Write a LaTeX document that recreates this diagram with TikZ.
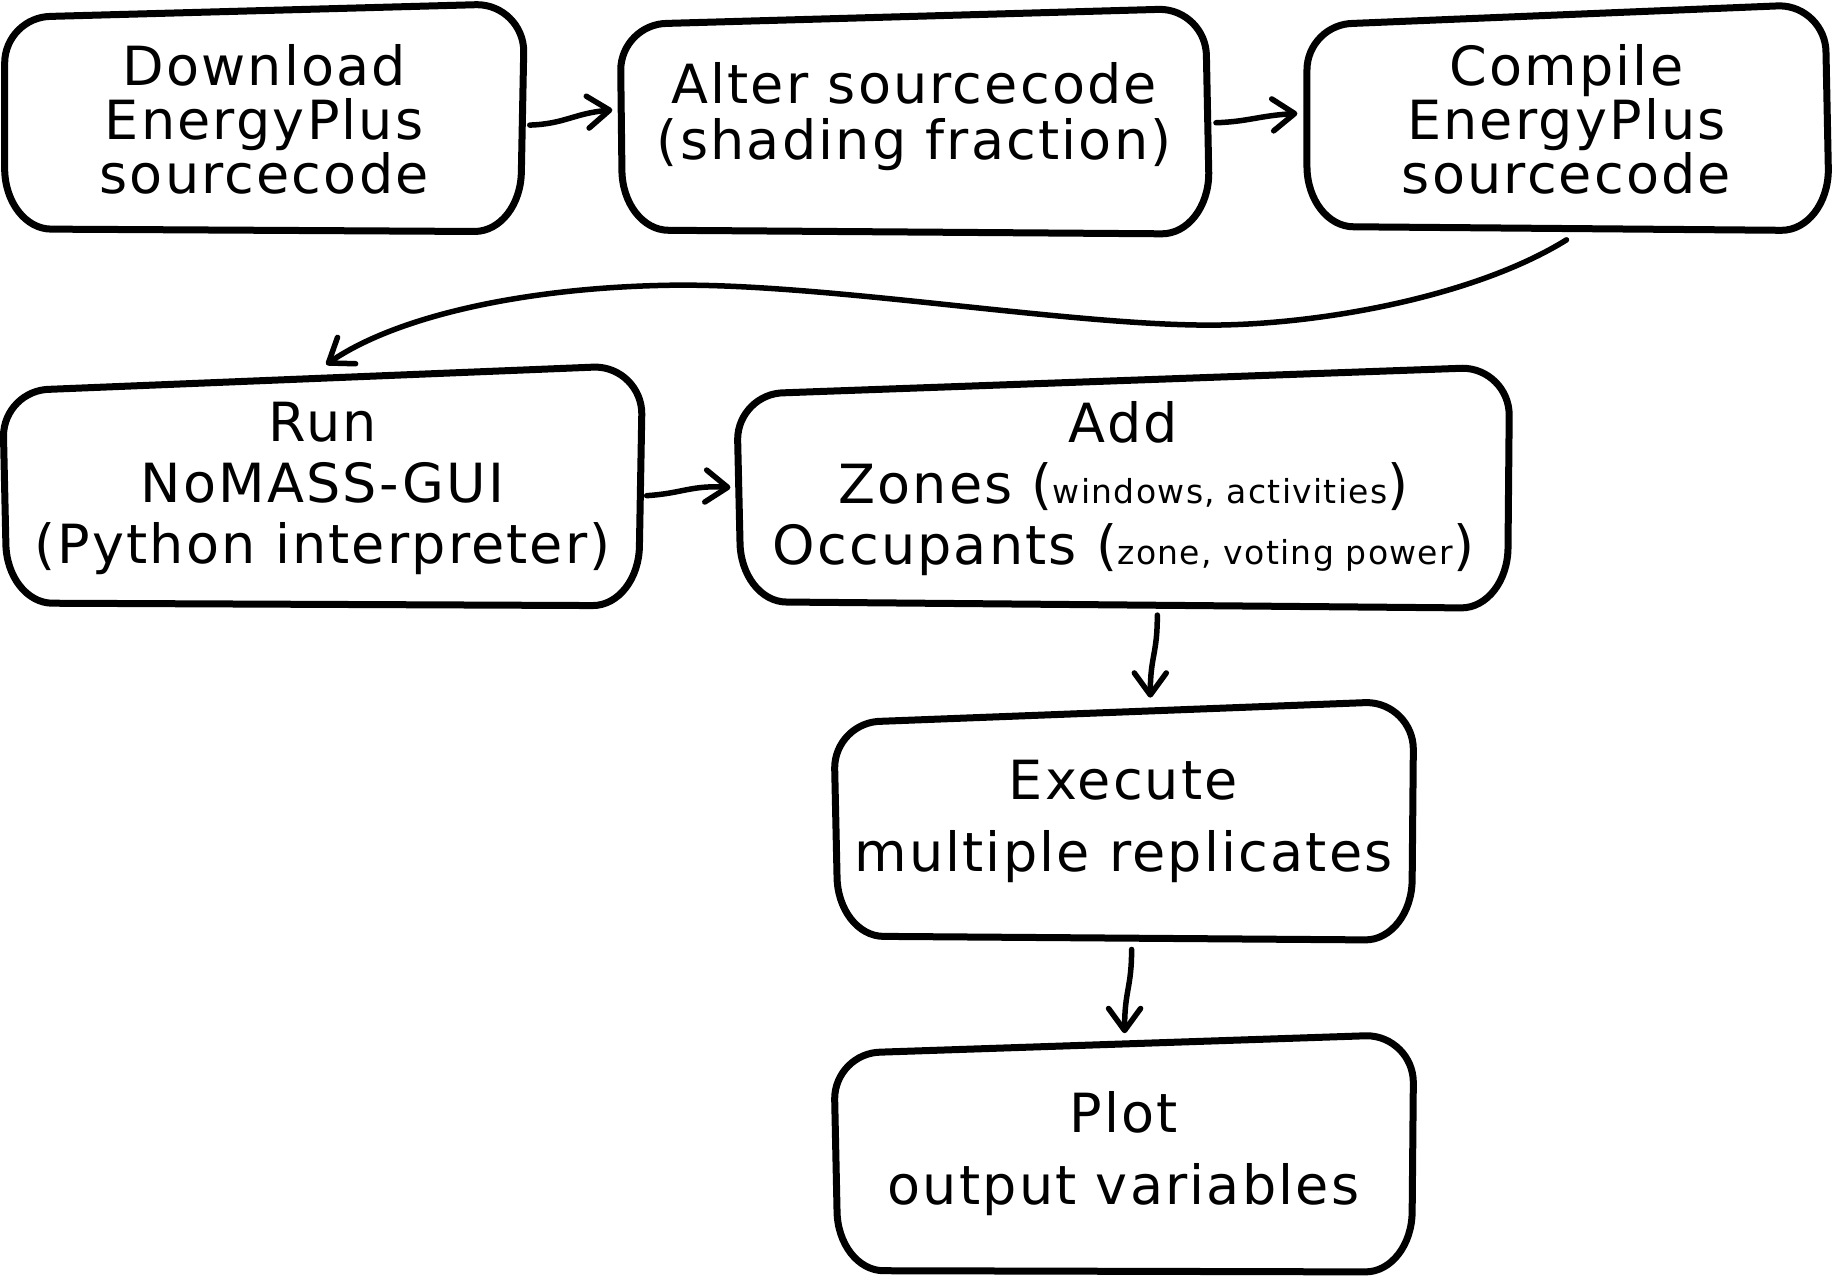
\documentclass[tikz,border=0pt]{standalone}
\usepackage{fontspec}
\setmainfont[LetterSpace=4]{DejaVu Sans}
\usetikzlibrary{arrows.meta}
\tikzset{
  boxline/.style={line width=7pt, line join=round, line cap=round},
  boxnode/.style={inner sep=0pt, align=center},
  arr/.style={line width=5.5pt, line cap=round, -{Straight Barb[length=22pt,width=32pt,line cap=round,line join=round]}},
}
\newcommand\skbox[8]{%
\draw[boxline] ({#1+40},#2) -- ({#3-40},#4) .. controls ({#3-18},#4) and (#3,{#4+18}) .. (#3,{#4+40})
 -- (#5,{#6-52}) .. controls (#5,{#6-23}) and ({#5-18},#6) .. ({#5-40},#6)
 -- ({#7+40},#8) .. controls ({#7+18},#8) and (#7,{#8-23}) .. (#7,{#8-52})
 -- (#1,{#2+40}) .. controls (#1,{#2+18}) and ({#1+18},#2) .. cycle;}
\newcommand\smalltxt[1]{{\fontsize{33}{33}\selectfont #1}}
\begin{document}
\begin{tikzpicture}[x=1.169pt,y=-1.169pt]
\useasboundingbox (0,0) rectangle (1568,1092);
% nodes
\node[boxnode, minimum width=444*1.169pt, minimum height=190*1.169pt, font=\fontsize{54}{54}\selectfont] (b1) at (226,102) {Download\\EnergyPlus\\sourcecode};
\node[boxnode, minimum width=502*1.169pt, minimum height=190*1.169pt, font=\fontsize{54}{56}\selectfont] (b2) at (782,100) {Alter sourcecode\\(shading fraction)};
\node[boxnode, minimum width=446*1.169pt, minimum height=190*1.169pt, font=\fontsize{54}{54}\selectfont] (b3) at (1340,102) {Compile\\EnergyPlus\\sourcecode};
\node[boxnode, minimum width=546*1.169pt, minimum height=200*1.169pt, font=\fontsize{54}{61}\selectfont] (b4) at (276,418) {Run\\NoMASS-GUI\\(Python interpreter)};
\node[boxnode, minimum width=660*1.169pt, minimum height=204*1.169pt, font=\fontsize{54}{61}\selectfont] (b5) at (961,418) {Add\\Zones (\smalltxt{windows, activities})\\Occupants (\smalltxt{zone, voting power})};
\node[boxnode, minimum width=495*1.169pt, minimum height=204*1.169pt, font=\fontsize{54}{72}\selectfont] (b6) at (961,703) {Execute\\multiple replicates};
\node[boxnode, minimum width=495*1.169pt, minimum height=200*1.169pt, font=\fontsize{54}{72}\selectfont] (b7) at (961,987) {Plot\\output variables};
% box outlines
\skbox{4}{14}{448}{4}{446}{198}{4}{196}
\skbox{531}{20}{1032}{8}{1034}{200}{532}{197}
\skbox{1118}{20}{1562}{5}{1564}{197}{1118}{194}
\skbox{3}{333}{549}{314}{547}{518}{5}{516}
\skbox{631}{336}{1291}{315}{1290}{520}{633}{515}
\skbox{714}{617}{1209}{601}{1208}{804}{716}{801}
\skbox{714}{900}{1209}{886}{1208}{1088}{716}{1087}
% connectors
\draw[arr] ([shift={(5,5)}]b1.east) .. controls ([shift={(35,4)}]b1.east) and ([shift={(-40,-3)}]b2.west) .. ([shift={(-7,-6)}]b2.west);
\draw[arr] ([shift={(7,5)}]b2.east) .. controls ([shift={(35,4)}]b2.east) and ([shift={(-40,-3)}]b3.west) .. ([shift={(-7,-5)}]b3.west);
\draw[arr] ([shift={(0,8)}]b3.south) .. controls (1260,255) and (1120,280) .. (1023,278)
  .. controls (900,276) and (700,242) .. (573,244)
  .. controls (450,246) and (340,270) .. ([shift={(3,-6)}]b4.north);
\draw[arr] ([shift={(4,6)}]b4.east) .. controls ([shift={(35,4)}]b4.east) and ([shift={(-40,-3)}]b5.west) .. ([shift={(-6,-1)}]b5.west);
\draw[arr] ([shift={(29,6)}]b5.south) .. controls ([shift={(29,40)}]b5.south) and ([shift={(23,-40)}]b6.north) .. ([shift={(23,-4)}]b6.north);
\draw[arr] ([shift={(7,7)}]b6.south) .. controls ([shift={(7,40)}]b6.south) and ([shift={(1,-40)}]b7.north) .. ([shift={(1,-3)}]b7.north);
\end{tikzpicture}
\end{document}
